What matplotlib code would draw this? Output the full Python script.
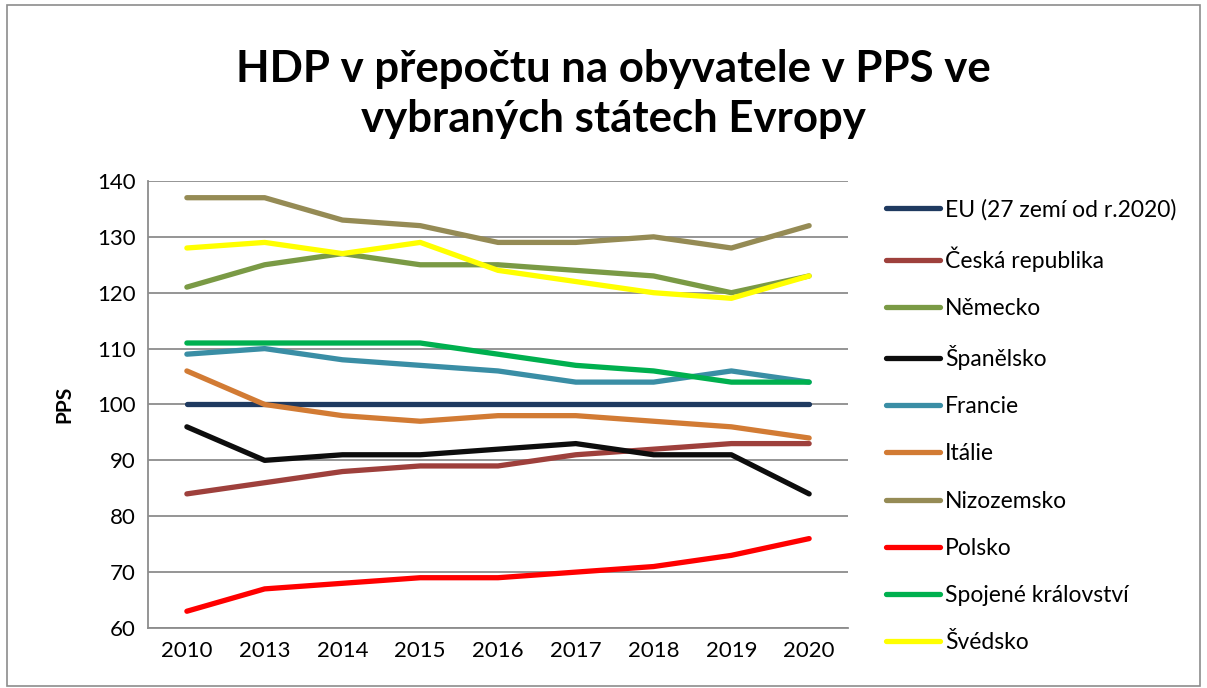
import matplotlib
matplotlib.use('Agg')
import matplotlib.pyplot as plt
from matplotlib.patches import Rectangle

# data
years = ['2010', '2013', '2014', '2015', '2016', '2017', '2018', '2019', '2020']
names = ['EU (27 zemí od r.2020)', 'Česká republika', 'Německo', 'Španělsko',
         'Francie', 'Itálie', 'Nizozemsko', 'Polsko', 'Spojené království', 'Švédsko']
eu = [100, 100, 100, 100, 100, 100, 100, 100, 100]
cz = [84, 86, 88, 89, 89, 91, 92, 93, 93]
de = [121, 125, 127, 125, 125, 124, 123, 120, 123]
es = [96, 90, 91, 91, 92, 93, 91, 91, 84]
fr = [109, 110, 108, 107, 106, 104, 104, 106, 104]
it = [106, 100, 98, 97, 98, 98, 97, 96, 94]
nl = [137, 137, 133, 132, 129, 129, 130, 128, 132]
pl = [63, 67, 68, 69, 69, 70, 71, 73, 76]
uk = [111, 111, 111, 111, 109, 107, 106, 104, 104]
se = [128, 129, 127, 129, 124, 122, 120, 119, 123]
series = [eu, cz, de, es, fr, it, nl, pl, uk, se]
colors = ['#1F3A60', '#9E403C', '#7A9A45', '#0D0D0D', '#3A8EA5',
          '#D27B34', '#958B55', '#FF0000', '#00B04F', '#FFFF00']

plt.rcParams['font.family'] = ['Lato', 'DejaVu Sans']

fig = plt.figure(figsize=(12.07, 6.88), dpi=100)
ax = fig.add_axes([0.1226, 0.0872, 0.58, 0.6498])

x = list(range(len(years)))
for vals, name, c in zip(series, names, colors):
    ax.plot(x, vals, color=c, lw=3.8, label=name, solid_capstyle='round')

ax.set_ylim(60, 140)
ax.set_yticks(range(60, 141, 10))
ax.set_xlim(-0.5, len(years) - 0.5)
ax.set_xticks(x)
ax.set_xticklabels(years)
ax.tick_params(labelsize=16, length=0, pad=9)
ax.grid(axis='y', color='#8C8C8C', lw=1.3)
ax.set_axisbelow(True)
for s in ['top', 'right']:
    ax.spines[s].set_visible(False)
for s in ['left', 'bottom']:
    ax.spines[s].set_color('#8C8C8C')
    ax.spines[s].set_linewidth(1.3)
ax.set_ylabel('PPS', fontsize=15, fontweight='bold', labelpad=16)

fig.text(0.508, 0.864, 'HDP v přepočtu na obyvatele v PPS ve\nvybraných státech Evropy',
         ha='center', va='center', fontsize=31.5, fontweight='bold', linespacing=1.3)

fig.legend(loc='upper left', bbox_to_anchor=(0.734, 0.711), frameon=False,
           fontsize=16.5, handlelength=2.35, handletextpad=0.22, labelspacing=1.14,
           borderpad=0, borderaxespad=0)

fig.add_artist(Rectangle((0.006, 0.003), 0.988, 0.99, transform=fig.transFigure,
                         fill=False, edgecolor='#8C8C8C', lw=1.2))

fig.savefig('out.png', dpi=100)
